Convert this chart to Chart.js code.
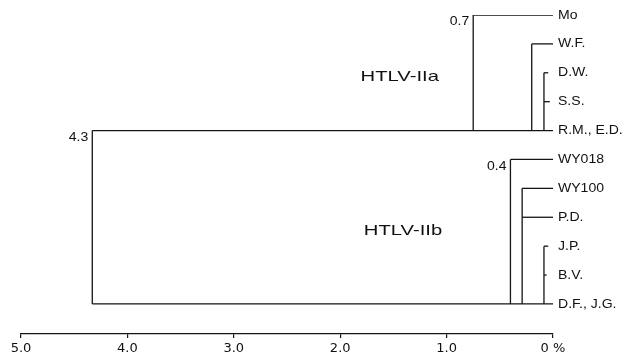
<!DOCTYPE html>
<html>
<head>
<meta charset="utf-8">
<script src="https://cdn.jsdelivr.net/npm/chart.js@4/dist/chart.umd.min.js"></script>
<style>
  html, body { margin: 0; padding: 0; background: #fff; }
  #wrap { width: 631px; height: 357px; position: relative; }
</style>
</head>
<body>
<div id="wrap"><canvas id="tree"></canvas></div>
<script>
// ===============================
// DATA (distance in %, leaves top to bottom)
// ===============================
const leaves = ["Mo", "W.F.", "D.W.", "S.S.", "R.M., E.D.",
                "WY018", "WY100", "P.D.", "J.P.", "B.V.", "D.F., J.G."];
// depth where each leaf's horizontal branch starts
const branchFrom = [0.75, 0.20, 0.085, 0.085, 4.33, 0.40, 0.29, 0.29, 0.085, 0.085, 4.33];
// depth where each leaf's branch ends
const leafEnd = [0, 0, 0.045, 0.03, 0, 0, 0, 0, 0.045, 0.06, 0];

// internal nodes: depth, first and last leaf covered by the vertical
const nodeDepth  = [4.33, 0.75, 0.20, 0.085, 0.40, 0.29, 0.085];
const nodeTop    = [4, 0, 1, 2, 5, 6, 8];
const nodeBottom = [10, 4, 4, 4, 10, 10, 10];
const nodeLabels = ["4.3", "0.7", "", "", "0.4", "", ""];

const clusterNames = ["HTLV-IIa", "HTLV-IIb"];
const clusterX = [1.44, 1.41];
const clusterY = [2.15, 7.47];

const tickValues = [5, 4, 3, 2, 1, 0];
const tickLabels = ["5.0", "4.0", "3.0", "2.0", "1.0", "0 %"];

// ===============================
// SEGMENTS -> DATASETS
// ===============================
const lineColor = "#151515";
const segments = [];
leaves.forEach((name, i) => {
  segments.push([{ x: branchFrom[i], y: i }, { x: leafEnd[i], y: i }]);
});
nodeDepth.forEach((d, k) => {
  segments.push([{ x: d, y: nodeTop[k] }, { x: d, y: nodeBottom[k] }]);
});

const datasets = segments.map(seg => ({
  data: seg,
  showLine: true,
  borderColor: lineColor,
  borderWidth: 1.3,
  pointRadius: 0,
  pointHoverRadius: 0,
  fill: false
}));

// ===============================
// TEXT PLUGIN
// ===============================
function drawText(ctx, text, x, y, font, align, sx) {
  ctx.save();
  ctx.font = font;
  ctx.fillStyle = "#111";
  ctx.textBaseline = "middle";
  const w = ctx.measureText(text).width * sx;
  let left = x;
  if (align === "center") left = x - w / 2;
  if (align === "right") left = x - w;
  ctx.translate(left, y);
  ctx.scale(sx, 1);
  ctx.textAlign = "left";
  ctx.fillText(text, 0, 0);
  ctx.restore();
}

const treeText = {
  id: "treeText",
  afterDatasetsDraw(chart) {
    const ctx = chart.ctx;
    const xs = chart.scales.x, ys = chart.scales.y;
    leaves.forEach((name, i) => {
      drawText(ctx, name, xs.getPixelForValue(0) + 5,
        ys.getPixelForValue(i), "13px 'Liberation Sans', Arial, sans-serif", "left", 1.08);
    });
    nodeLabels.forEach((lab, k) => {
      if (!lab) return;
      drawText(ctx, lab, xs.getPixelForValue(nodeDepth[k]) - 4,
        ys.getPixelForValue(nodeTop[k]) + 7, "12.5px 'Liberation Sans', Arial, sans-serif", "right", 1.12);
    });
    clusterNames.forEach((lab, k) => {
      drawText(ctx, lab, xs.getPixelForValue(clusterX[k]),
        ys.getPixelForValue(clusterY[k]), "15px 'Liberation Sans', Arial, sans-serif", "center", 1.35);
    });
  }
};

// ===============================
// CHART
// ===============================
const ctx = document.getElementById("tree").getContext("2d");
new Chart(ctx, {
  type: "scatter",
  data: { datasets: datasets },
  options: {
    responsive: true,
    maintainAspectRatio: false,
    animation: false,
    events: [],
    layout: { padding: { left: 21, right: 78, top: 15, bottom: -2 } },
    plugins: { legend: { display: false }, tooltip: { enabled: false } },
    scales: {
      x: {
        type: "linear",
        reverse: true,
        min: 0,
        max: 5,
        afterBuildTicks: scale => {
          scale.ticks = tickValues.map(v => ({ value: v }));
        },
        ticks: {
          autoSkip: false,
          maxRotation: 0,
          padding: 4,
          color: "#111",
          font: { family: "'DejaVu Sans', sans-serif", size: 13, lineHeight: 1 },
          callback: (v) => tickLabels[tickValues.indexOf(v)]
        },
        grid: { drawOnChartArea: false, drawTicks: true, tickLength: 4, color: lineColor, lineWidth: 1.2 },
        border: { display: true, color: lineColor, width: 1.2 }
      },
      y: {
        type: "linear",
        reverse: true,
        min: 0,
        max: 11.04,
        display: false
      }
    }
  },
  plugins: [treeText]
});
</script>
</body>
</html>
